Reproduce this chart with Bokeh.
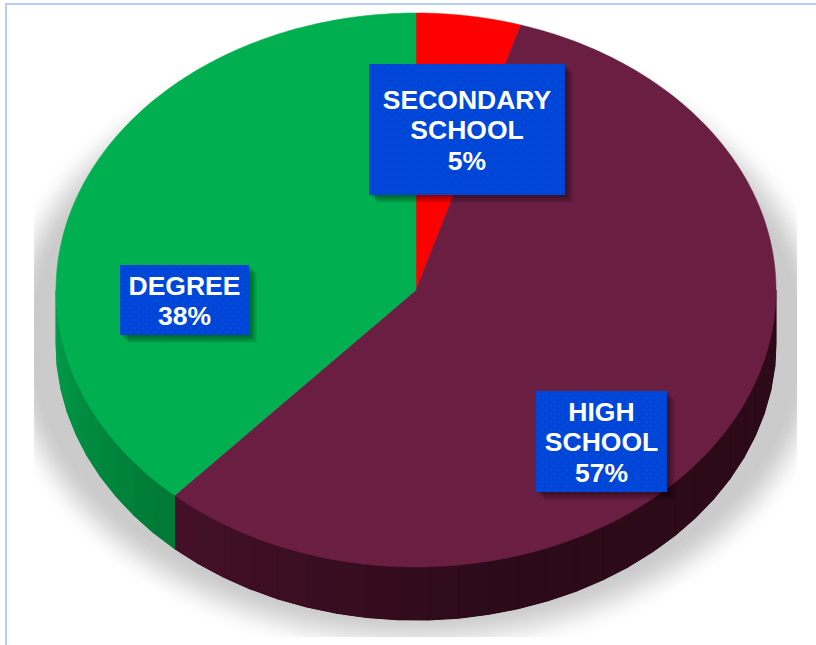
import numpy as np
from bokeh.plotting import figure
from bokeh.models import ColumnDataSource, Range1d
from bokeh.core.properties import value
from bokeh.embed import file_html
from bokeh.resources import INLINE

# --- data (clockwise from 12 o'clock)
categories = ["SECONDARY\nSCHOOL", "HIGH\nSCHOOL", "DEGREE"]
shares = [4.7, 57.0, 38.3]
top_colors = ["#ff0000", "#691e42", "#00b050"]
side_seam = ["#a00000", "#451029", "#007a36"]
side_far = ["#a00000", "#2c0a18", "#009c4a"]

# --- layout (page pixels)
PAGE_W, PAGE_H = 816, 645
CX, CY, RX, RY, DEPTH = 416.0, 290.0, 360.0, 277.0, 53.0
CLIP = (34, 797, 0, 637)
label_boxes = [(369, 565, 64, 195), (536, 667, 391, 492), (120, 249, 265, 335)]

p = figure(width=PAGE_W, height=PAGE_H, output_backend="svg", toolbar_location=None,
           x_range=Range1d(0.5, PAGE_W + 0.5), y_range=Range1d(PAGE_H + 0.5, 0.5),
           min_border=0, outline_line_color=None, background_fill_color="white")
p.axis.visible = False
p.grid.visible = False


def px(t):
    return CX + RX * np.sin(np.radians(t))


def py(t):
    return CY - RY * np.cos(np.radians(t))


def mix(a, b, f):
    ca = [int(a[i:i + 2], 16) for i in (1, 3, 5)]
    cb = [int(b[i:i + 2], 16) for i in (1, 3, 5)]
    return "#%02x%02x%02x" % tuple(int(round(x + (y - x) * f)) for x, y in zip(ca, cb))


# drop shadow: opaque ellipses from pale to full grey, cut at the picture's rectangle
N = 36
tt = np.linspace(0, 2 * np.pi, 241)
for f in np.linspace(0, 1, N):
    rx, ry = 424 + (382 - 424) * f, 322 + (274 - 322) * f
    ease = f * f * (3 - 2 * f)
    p.patch(np.clip(CX + rx * np.cos(tt), CLIP[0], CLIP[1]).tolist(),
            np.clip(340 + ry * np.sin(tt), CLIP[2], CLIP[3]).tolist(),
            fill_color=mix("#fefefe", "#cbcbcb", ease), line_color=None)

# slice angles come from the shares
edges = np.cumsum([0.0] + shares) / sum(shares) * 360.0

# rim of the disc
xs, ys, cs = [], [], []
for i in range(len(shares)):
    lo, hi = max(edges[i], 90.0), min(edges[i + 1], 270.0)
    if hi <= lo:
        continue
    whole = np.linspace(lo, hi, 121)
    p.patch(np.r_[px(whole), px(whole)[::-1]].tolist(),
            np.r_[py(whole), py(whole)[::-1] + DEPTH].tolist(),
            fill_color=mix(side_seam[i], side_far[i], 0.7), line_color=None)
    steps = int((hi - lo) / 5) + 1
    ang = np.linspace(lo, hi, steps + 1)
    for k in range(steps):
        a, b = ang[k], ang[k + 1]
        xs.append([px(a), px(b), px(b), px(a)])
        ys.append([py(a), py(b), py(b) + DEPTH, py(a) + DEPTH])
        if i == 1:      # lightest at the seam with DEGREE, dark towards the right
            f = min(1.0, (hi - a) / ((hi - lo) * 0.45))
        else:
            f = k / max(steps - 1, 1)
        cs.append(mix(side_seam[i], side_far[i], f))
p.patches(xs, ys, fill_color=cs, line_color=cs, line_width=1.2)

# top of the disc
xs, ys = [], []
for i in range(len(shares)):
    ang = np.linspace(edges[i], edges[i + 1], 181)
    xs.append([CX] + px(ang).tolist())
    ys.append([CY] + py(ang).tolist())
p.patches(xs, ys, fill_color=top_colors, line_color=top_colors, line_width=0.5)

# labels
labels = [f"{c}\n{round(s)}%" for c, s in zip(categories, shares)]
for (x0, x1, y0, y1) in label_boxes:
    for d in range(1, 9):
        p.quad(left=x0 + d, right=x1 + d, top=y0 + d, bottom=y1 + d,
               fill_color="black", fill_alpha=0.06, line_color=None)
    p.quad(left=x0, right=x1, top=y0, bottom=y1, fill_color="#0046d6", line_color=None)
    dx, dy = [], []
    for r, yy in enumerate(np.arange(y0 + 3, y1 - 1, 4)):
        for xx in np.arange(x0 + 3 + (r % 2) * 4, x1 - 1, 8):
            dx.append(float(xx))
            dy.append(float(yy))
    p.scatter(dx, dy, size=2.2, marker="circle", fill_color="#004eea", line_color=None)

src = ColumnDataSource(dict(
    x=[(b[0] + b[1]) / 2 for b in label_boxes],
    y=[(b[2] + b[3]) / 2 + 1 for b in label_boxes],
    t=labels))
p.text(x="x", y="y", text="t", source=src, text_color="white",
       text_font=value("Liberation Sans"), text_font_style="bold", text_font_size="26.5px",
       text_align="center", text_baseline="middle", text_line_height=1.02)

# pale blue frame of the picture
p.quad(left=5, right=7, top=3, bottom=PAGE_H + 1, fill_color="#b4ccff", line_color=None)
p.quad(left=5, right=PAGE_W + 1, top=3, bottom=5, fill_color="#b4ccff", line_color=None)

open("out.html", "w").write(file_html(p, INLINE))
